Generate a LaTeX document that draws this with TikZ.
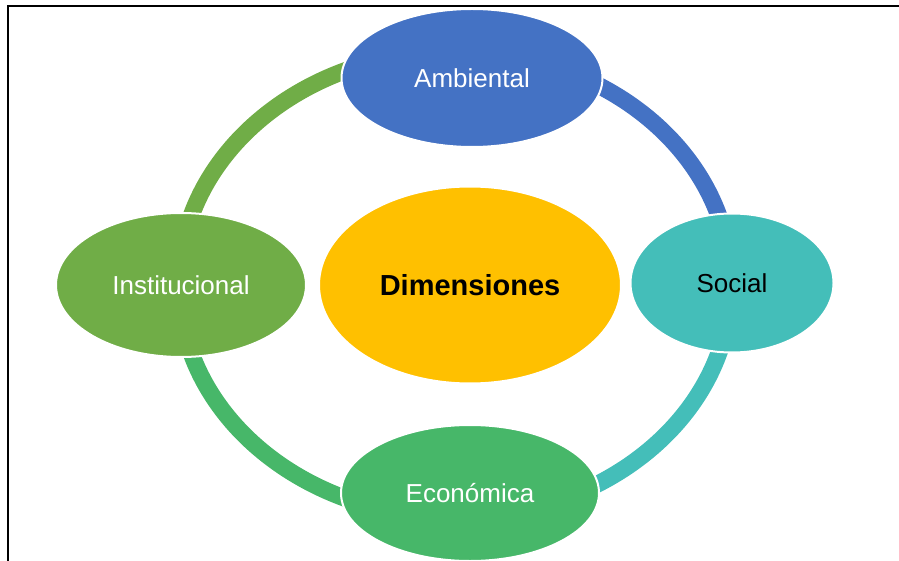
\documentclass[tikz,border=0pt]{standalone}
\usepackage{fontspec}
\setmainfont{Liberation Sans}
\usetikzlibrary{shapes.geometric}
\definecolor{AmbBlue}{HTML}{4472C4}
\definecolor{SocTeal}{HTML}{44BEB9}
\definecolor{EcoGreen}{HTML}{47B769}
\definecolor{InsGreen}{HTML}{70AD47}
\definecolor{DimGold}{HTML}{FFC000}
\begin{document}
\begin{tikzpicture}[x=1pt,y=-1pt]
  \tikzset{DimNodeStyle/.style = {shape          = ellipse,
                                  draw           = white,
                                  line width     = 2pt,
                                  inner sep      = 0pt,
                                  outer sep      = 0pt,
                                  text           = white,
                                  font           = \fontsize{26}{30}\selectfont}}
  \tikzset{RingStyle/.style   = {line width      = 17pt}}
%                                 line cap        = round}}

\clip (0,0) rectangle (899,561);
\draw[line width=2pt] (8,6.5) rectangle (950,650);

\coordinate (ring) at (455,284.5);
\coordinate (R1) at (455,51.5);
\coordinate (R2) at (731,284.5);
\coordinate (R3) at (455,517.5);
\coordinate (R4) at (179,284.5);

\draw[RingStyle, AmbBlue]  (R1) arc[start angle=-90, end angle=0,   x radius=276, y radius=233];
\draw[RingStyle, SocTeal]  (R2) arc[start angle=0,   end angle=90,  x radius=276, y radius=233];
\draw[RingStyle, EcoGreen] (R3) arc[start angle=90,  end angle=180, x radius=276, y radius=233];
\draw[RingStyle, InsGreen] (R4) arc[start angle=180, end angle=270, x radius=276, y radius=233];

\node[DimNodeStyle, fill=AmbBlue, minimum width=261pt, minimum height=138pt] (amb) at (472,78) {Ambiental};
\node[DimNodeStyle, fill=SocTeal, text=black, minimum width=203pt, minimum height=139pt] (soc) at (732,283) {Social};
\node[DimNodeStyle, fill=EcoGreen, minimum width=258pt, minimum height=136pt] (eco) at (470,493) {Económica};
\node[DimNodeStyle, fill=InsGreen, minimum width=250pt, minimum height=144pt] (ins) at (181,285) {Institucional};
\node[DimNodeStyle, fill=DimGold, text=black, font=\fontsize{29}{34}\selectfont\bfseries,
      minimum width=302pt, minimum height=197pt] (dim) at (470,285) {Dimensiones};

\end{tikzpicture}
\end{document}
